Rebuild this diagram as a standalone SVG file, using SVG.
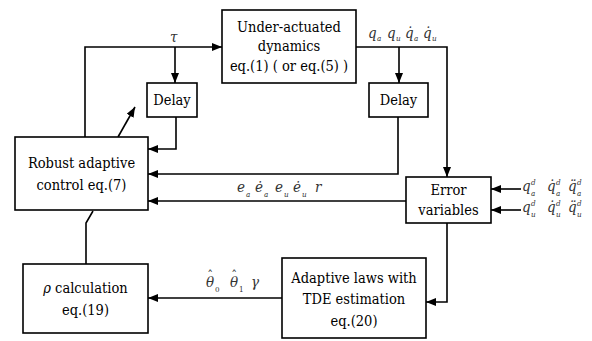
<svg xmlns="http://www.w3.org/2000/svg" width="592" height="341" viewBox="0 0 592 341">
<defs>
<marker id="ah" markerWidth="10" markerHeight="8" refX="10" refY="4" orient="auto" markerUnits="userSpaceOnUse">
<path d="M0,0 L10,4 L0,8 Z" fill="#000"/>
</marker>
<style>
.box{fill:#fff;stroke:#000;stroke-width:1.6}
.lbl{font-size:14.5px;fill:#000;text-anchor:middle;font-stretch:condensed}
.ln{fill:none;stroke:#000;stroke-width:1.6}
.arr{fill:none;stroke:#000;stroke-width:1.6;marker-end:url(#ah)}
.m{font-style:italic;font-size:15px;fill:#333}
.s{font-style:italic;font-size:8px;fill:#333}
.su{font-size:8px;fill:#333}
.hat{font-style:normal;font-size:13px}
</style>
</defs>
<rect width="592" height="341" fill="#fff"/>
<g id="connectors">
<polyline class="arr" points="85,137 85,47 222,47"/>
<polyline class="arr" points="175,47 175,83"/>
<polyline class="arr" points="176,117 176,149 148,149"/>
<line class="arr" x1="118" y1="137" x2="135" y2="107"/>
<polyline class="arr" points="356,47 447,47 447,177"/>
<polyline class="arr" points="399,47 399,83"/>
<polyline class="arr" points="398,117 398,174 148,174"/>
<polyline class="arr" points="406,201 148,201"/>
<polyline class="arr" points="521,189 491,189"/>
<polyline class="arr" points="521,210 491,210"/>
<polyline class="arr" points="447,223 447,302 426,302"/>
<polyline class="arr" points="282,298 148,298"/>
<polyline class="ln" points="86,264 86,223 93,211"/>
</g>
<g font-family="DejaVu Serif Condensed, DejaVu Serif, serif">
<g id="dynamics">
<rect class="box" x="222" y="10" width="134" height="73"/>
<text class="lbl" x="289" y="32">Under-actuated</text>
<text class="lbl" x="289" y="51">dynamics</text>
<text class="lbl" x="289" y="71">eq.(1) ( or eq.(5) )</text>
</g>
<g id="delay1">
<rect class="box" x="147" y="83" width="50" height="34"/>
<text class="lbl" x="172" y="105">Delay</text>
</g>
<g id="delay2">
<rect class="box" x="369" y="83" width="59" height="34"/>
<text class="lbl" x="398.5" y="105">Delay</text>
</g>
<g id="robust">
<rect class="box" x="15" y="137" width="133" height="73"/>
<text class="lbl" x="81.5" y="168">Robust adaptive</text>
<text class="lbl" x="81.5" y="190">control eq.(7)</text>
</g>
<g id="error">
<rect class="box" x="406" y="177" width="85" height="46"/>
<text class="lbl" x="448.5" y="195">Error</text>
<text class="lbl" x="448.5" y="215">variables</text>
</g>
<g id="adaptive">
<rect class="box" x="282" y="258" width="144" height="80"/>
<text class="lbl" x="354" y="283">Adaptive laws with</text>
<text class="lbl" x="354" y="304">TDE estimation</text>
<text class="lbl" x="354" y="326">eq.(20)</text>
</g>
<g id="rho">
<rect class="box" x="23" y="264" width="125" height="69"/>
<text class="lbl" x="85.5" y="293"><tspan font-style="italic">ρ</tspan> calculation</text>
<text class="lbl" x="85.5" y="315">eq.(19)</text>
</g>
<g id="labels">
<text class="m" x="170" y="42">τ</text>
<text class="m" x="368" y="38">q</text><text class="s" x="377" y="41">a</text>
<text class="m" x="387" y="38">q</text><text class="s" x="396" y="41">u</text>
<text class="m" x="405" y="38">q̇</text><text class="s" x="414" y="41">a</text>
<text class="m" x="423" y="38">q̇</text><text class="s" x="432" y="41">u</text>
<text class="m" x="237" y="192">e</text><text class="s" x="246" y="197">a</text>
<text class="m" x="255" y="192">ė</text><text class="s" x="264" y="197">a</text>
<text class="m" x="275" y="192">e</text><text class="s" x="284" y="197">u</text>
<text class="m" x="293" y="192">ė</text><text class="s" x="302" y="197">u</text>
<text class="m" x="315" y="192">r</text>
<text class="m" x="522" y="191">q</text><text class="s" x="531" y="185">d</text><text class="s" x="531" y="196">a</text>
<text class="m" x="547" y="191">q̇</text><text class="s" x="556" y="185">d</text><text class="s" x="556" y="196">a</text>
<text class="m" x="568" y="191">q̈</text><text class="s" x="577" y="185">d</text><text class="s" x="577" y="196">a</text>
<text class="m" x="522" y="212">q</text><text class="s" x="531" y="206">d</text><text class="s" x="531" y="217">u</text>
<text class="m" x="547" y="212">q̇</text><text class="s" x="556" y="206">d</text><text class="s" x="556" y="217">u</text>
<text class="m" x="568" y="212">q̈</text><text class="s" x="577" y="206">d</text><text class="s" x="577" y="217">u</text>
<text class="m" x="206" y="287">θ<tspan class="hat" dx="-7" dy="-7">ˆ</tspan></text><text class="su" x="215" y="292">0</text>
<text class="m" x="230" y="287">θ<tspan class="hat" dx="-7" dy="-7">ˆ</tspan></text><text class="su" x="239" y="292">1</text>
<text class="m" x="251" y="287">γ</text>
</g>
</g>
</svg>
